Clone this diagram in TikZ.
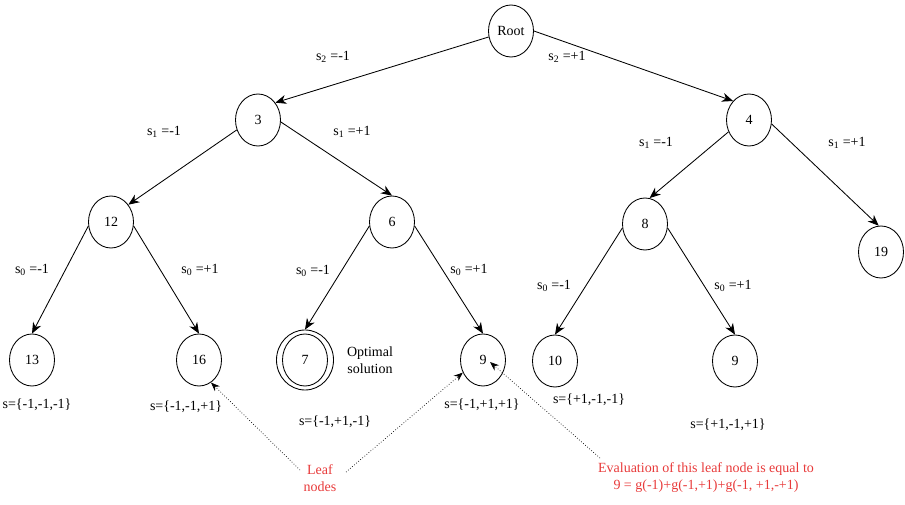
\documentclass[tikz,border=0pt]{standalone}
\usepackage{fontspec}
\setmainfont{Liberation Serif}
\usetikzlibrary{shapes.geometric,arrows.meta}
\definecolor{redtxt}{RGB}{232,58,58}
\newcommand{\sv}[2]{s\textsubscript{#1}\hspace{3.5pt}=#2}
\begin{document}
\begin{tikzpicture}[x=1pt,y=-1pt,
  tnode/.style={ellipse,draw,line width=0.85pt,minimum width=45pt,minimum height=52pt,inner sep=0pt,font=\fontsize{14}{16}\selectfont},
  lbl/.style={font=\fontsize{14}{17}\selectfont,inner sep=0pt},
  redlbl/.style={lbl,text=redtxt,align=center},
  conn/.style={line width=0.85pt,-{Stealth[length=11pt,width=9pt,inset=3.5pt]}},
  dotconn/.style={dotted,line width=0.7pt,-{Stealth[length=9pt,width=7pt,inset=3pt]}},
]
\useasboundingbox (0,0) rectangle (905,505);

% nodes
\node[tnode] (root) at (511,31) {Root};
\node[tnode] (n3) at (258,120) {3};
\node[tnode] (n4) at (749,120) {4};
\node[tnode] (n12) at (111,222) {12};
\node[tnode] (n6) at (392,222) {6};
\node[tnode] (n8) at (645,224) {8};
\node[tnode] (n19) at (881,252) {19};
\node[tnode] (n13) at (32,360) {13};
\node[tnode] (n16) at (199,360) {16};
\node[tnode] (n7) at (305,360) {7};
\node[ellipse,draw,line width=0.85pt,minimum width=57pt,minimum height=60pt,inner sep=0pt] (n7o) at (305,360) {};
\node[tnode] (n9a) at (483,360) {9};
\node[tnode] (n10) at (555,361) {10};
\node[tnode] (n9b) at (735,361) {9};

% connectors
\draw[conn] (root.195) -- (n3.45);
\draw[conn] (root.east) -- (n4.130);
\draw[conn] (n3.205) -- (n12.45);
\draw[conn] (n3.-5) -- (n6.north);
\draw[conn] (n4.210) -- (n8.80);
\draw[conn] (n4.-10) -- (n19.95);
\draw[conn] (n12.190) -- (n13.north);
\draw[conn] (n12.-10) -- (n16.north);
\draw[conn] (n6.190) -- (n7o.north);
\draw[conn] (n6.-10) -- (n9a.north);
\draw[conn] (n8.190) -- (n10.north);
\draw[conn] (n8.-10) -- (n9b.north);

% edge labels
\node[lbl] (l1) at (333,57) {\sv{2}{-1}};
\node[lbl] (l2) at (567,57) {\sv{2}{+1}};
\node[lbl] (l3) at (164,132) {\sv{1}{-1}};
\node[lbl] (l4) at (352,132) {\sv{1}{+1}};
\node[lbl] (l5) at (656,143) {\sv{1}{-1}};
\node[lbl] (l6) at (847,143) {\sv{1}{+1}};
\node[lbl] (l7) at (32,270) {\sv{0}{-1}};
\node[lbl] (l8) at (200,270) {\sv{0}{+1}};
\node[lbl] (l9) at (313,271) {\sv{0}{-1}};
\node[lbl] (l10) at (469,270) {\sv{0}{+1}};
\node[lbl] (l11) at (554,286) {\sv{0}{-1}};
\node[lbl] (l12) at (733,286) {\sv{0}{+1}};

% leaf labels
\node[lbl] (s1) at (37,405) {s=\{-1,-1,-1\}};
\node[lbl] (s2) at (186,407) {s=\{-1,-1,+1\}};
\node[lbl] (s3) at (335,422) {s=\{-1,+1,-1\}};
\node[lbl] (s4) at (482,405) {s=\{-1,+1,+1\}};
\node[lbl] (s5) at (589,400) {s=\{+1,-1,-1\}};
\node[lbl] (s6) at (728,425) {s=\{+1,-1,+1\}};
\node[lbl,align=center] (opt) at (370,360) {Optimal\\solution};

% annotations
\node[redlbl] (leaf) at (320,478) {Leaf\\nodes};
\node[redlbl] (eval) at (706,478) {Evaluation of this leaf node is equal to\\9 = g(-1)+g(-1,+1)+g(-1, +1,-+1)};
\coordinate (a1) at (300,470);
\coordinate (a2) at (346,472);
\coordinate (a3) at (600,458);
\coordinate (t3) at (490,362);
\draw[dotconn] (a1) -- (n16.-62);
\draw[dotconn] (a2) -- (n9a.212);
\draw[dotconn] (a3) -- (t3);
\end{tikzpicture}
\end{document}
